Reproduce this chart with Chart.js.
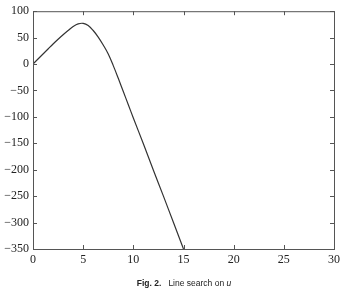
<!DOCTYPE html>
<html lang="en">
<head>
<meta charset="UTF-8" />
<title>Fig. 2 Line search on u</title>
<script src="https://cdn.jsdelivr.net/npm/chart.js"></script>
<style>
    html, body { margin: 0; padding: 0; background: #fff; }
    .wrap { position: relative; width: 344px; height: 290px; overflow: hidden; }
    canvas { display: block; }
    .legenda {
        position: absolute; left: 0; width: 368px; top: 278px;
        text-align: center; font-family: "Liberation Sans", sans-serif;
        font-size: 8.5px; color: #222; white-space: pre;
    }
</style>
</head>
<body>
<div class="wrap">
    <canvas id="grafico" width="344" height="290"></canvas>
    <div class="legenda"><b>Fig. 2.</b>   Line search on <i>u</i></div>
</div>

<script>
    // valores
    const uValores = [0, 0.5, 1, 1.5, 2, 2.5, 3, 3.5, 4, 4.5, 5, 5.5, 6, 6.5, 7, 7.5, 8, 8.5, 9, 9.5, 10, 11, 12, 13, 14, 15];
    const fValores = [0, 9.5, 19, 28.5, 38, 47, 55.5, 63.5, 71, 76, 77, 73, 63.5, 51, 36, 19, -3, -27, -52, -77, -102, -151, -201, -250, -300, -350];
    const ticksX = [0, 5, 10, 15, 20, 25, 30];
    const ticksY = [100, 50, 0, -50, -100, -150, -200, -250, -300, -350];

    const corEixo = '#555';
    const fonte = { family: '"Liberation Serif", "Times New Roman", serif', size: 12 };

    // moldura + ticks para dentro nos quatro lados
    const molduraPlugin = {
        id: 'moldura',
        afterDraw(chart) {
            const ctx = chart.ctx;
            const a = chart.chartArea;
            const sx = chart.scales.x, sy = chart.scales.y;
            const len = 4;
            ctx.save();
            ctx.strokeStyle = corEixo;
            ctx.lineWidth = 1;
            ctx.strokeRect(a.left + 0.5, a.top + 0.5, a.right - a.left, a.bottom - a.top);
            ctx.beginPath();
            ticksX.forEach(v => {
                const px = Math.round(sx.getPixelForValue(v)) + 0.5;
                ctx.moveTo(px, a.bottom); ctx.lineTo(px, a.bottom - len);
                ctx.moveTo(px, a.top); ctx.lineTo(px, a.top + len);
            });
            ticksY.forEach(v => {
                const py = Math.round(sy.getPixelForValue(v)) + 0.5;
                ctx.moveTo(a.left, py); ctx.lineTo(a.left + len, py);
                ctx.moveTo(a.right, py); ctx.lineTo(a.right - len, py);
            });
            ctx.stroke();
            ctx.restore();
        }
    };

    new Chart(document.getElementById('grafico'), {
        type: 'line',
        data: {
            datasets: [{
                data: uValores.map((u, i) => ({ x: u, y: fValores[i] })),
                borderColor: '#333',
                borderWidth: 1.2,
                pointRadius: 0,
                tension: 0.4,
                fill: false
            }]
        },
        options: {
            responsive: false,
            animation: false,
            layout: { padding: { left: 0, right: 9, top: 11, bottom: 21 } },
            plugins: { legend: { display: false }, tooltip: { enabled: false } },
            scales: {
                x: {
                    type: 'linear', min: 0, max: 30,
                    afterBuildTicks: s => { s.ticks = ticksX.map(v => ({ value: v })); },
                    afterFit: s => { s.height = 20; },
                    grid: { display: false, drawTicks: false },
                    border: { display: false },
                    ticks: { color: '#222', font: fonte, padding: 4, maxRotation: 0 }
                },
                y: {
                    type: 'linear', min: -350, max: 100,
                    afterBuildTicks: s => { s.ticks = ticksY.map(v => ({ value: v })); },
                    afterFit: s => { s.width = 33; },
                    grid: { display: false, drawTicks: false },
                    border: { display: false },
                    ticks: {
                        color: '#222', font: fonte, padding: 4,
                        callback: v => String(v).replace('-', '\u2212')
                    }
                }
            }
        },
        plugins: [molduraPlugin]
    });
</script>
</body>
</html>
